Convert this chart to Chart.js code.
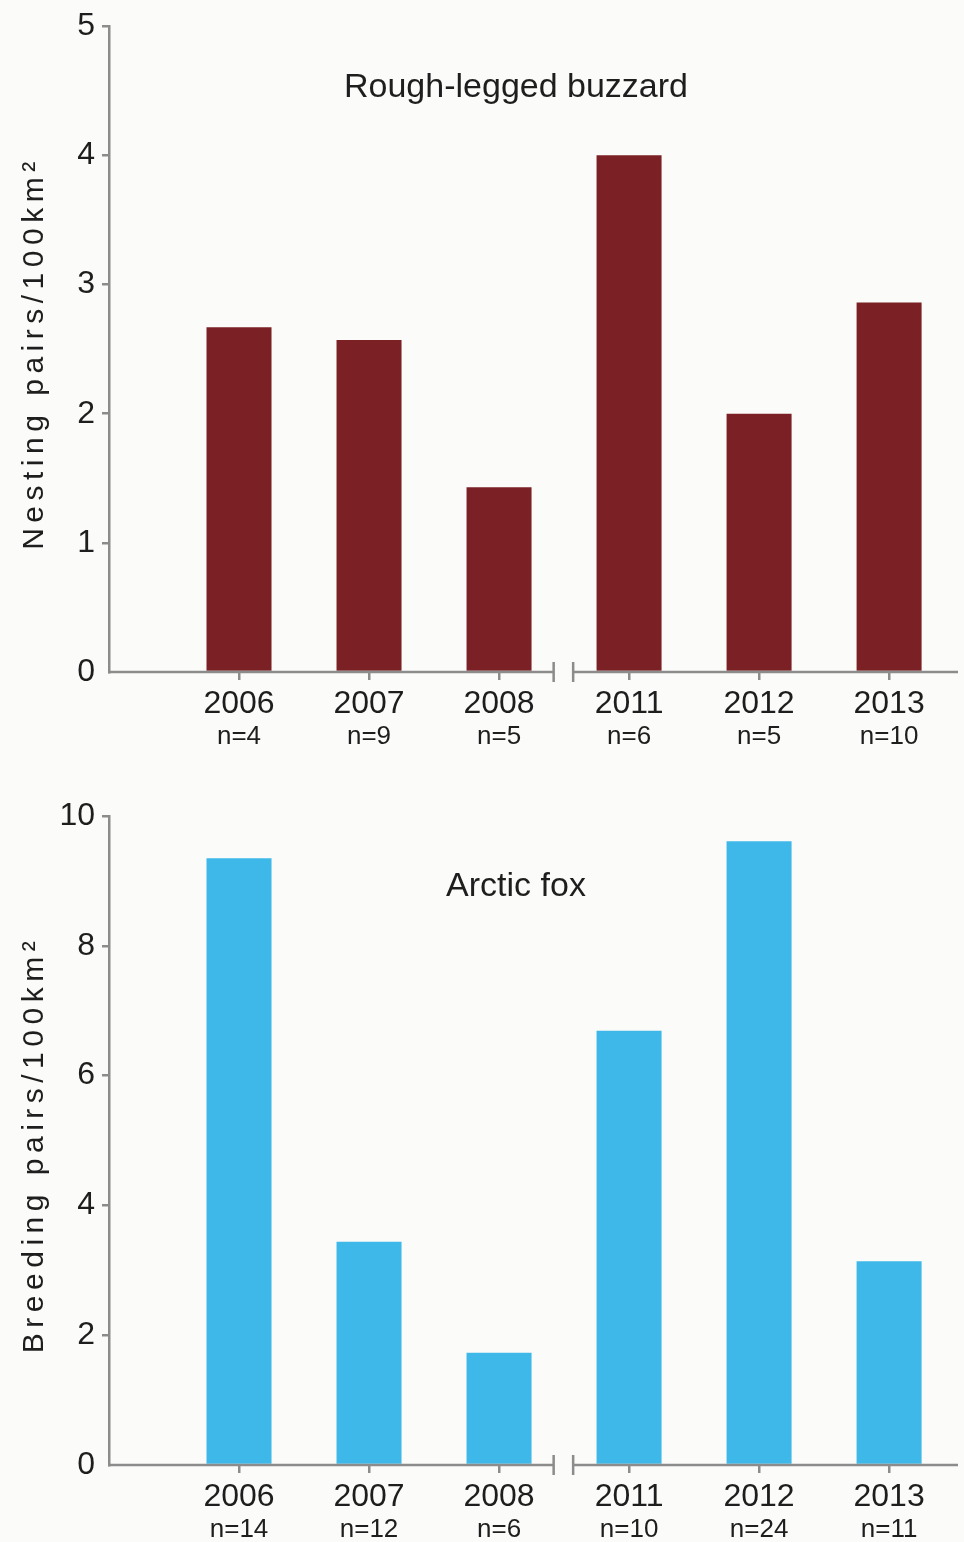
<!DOCTYPE html>
<html>
<head>
<meta charset="utf-8">
<script src="https://cdn.jsdelivr.net/npm/chart.js@4/dist/chart.umd.min.js"></script>
<style>
  html, body { margin: 0; padding: 0; background: #fbfbf9; }
  canvas { display: block; }
</style>
</head>
<body>
<canvas id="buzzard" width="964" height="771"></canvas>
<canvas id="fox" width="964" height="771"></canvas>
<script>
const years = ["2006", "2007", "2008", "2011", "2012", "2013"];
const buzzardN = ["n=4", "n=9", "n=5", "n=6", "n=5", "n=10"];
const foxN = ["n=14", "n=12", "n=6", "n=10", "n=24", "n=11"];
const buzzardDensity = [2.67, 2.57, 1.43, 4.0, 2.0, 2.86];
const foxDensity = [9.35, 3.44, 1.73, 6.69, 9.61, 3.14];

const axisColor = "#8c8c8c";
const textColor = "#1e1e1e";
const FONT = "'Liberation Sans', Arial, sans-serif";

// x axis with a gap between 2008 and 2011, plus n labels and in-plot titles
const decorPlugin = {
  id: "decor",
  afterDraw(chart, args, opts) {
    const { ctx, chartArea } = chart;
    const x = chart.scales.x;
    const y0 = chartArea.bottom;
    const b1 = x.getPixelForValue(2.42);
    const b2 = x.getPixelForValue(2.57);
    ctx.save();
    ctx.strokeStyle = axisColor;
    ctx.lineWidth = 2.5;
    ctx.beginPath();
    ctx.moveTo(chartArea.left - 1, y0);
    ctx.lineTo(b1, y0);
    ctx.moveTo(b2, y0);
    ctx.lineTo(chartArea.right, y0);
    ctx.moveTo(b1, y0 - 10);
    ctx.lineTo(b1, y0 + 10);
    ctx.moveTo(b2, y0 - 10);
    ctx.lineTo(b2, y0 + 10);
    ctx.stroke();

    ctx.fillStyle = textColor;
    ctx.textAlign = "center";
    ctx.textBaseline = "middle";
    ctx.font = `26px ${FONT}`;
    opts.nLabels.forEach((t, i) => {
      ctx.fillText(t, x.getPixelForValue(i), y0 + 65);
    });

    ctx.font = `34px ${FONT}`;
    ctx.fillText(opts.title, 516, opts.titleY);

    // rotated y title with wide letter spacing
    ctx.translate(35, (chartArea.top + chartArea.bottom) / 2 + 4);
    ctx.rotate(-Math.PI / 2);
    ctx.font = `30px ${FONT}`;
    ctx.letterSpacing = "5.5px";
    ctx.fillText(opts.yTitle, 0, 0);
    ctx.restore();
  }
};

const makeChart = (id, values, color, yMax, yStep, padTop, xHeight, nLabels, title, titleY, yTitle) => {
  return new Chart(document.getElementById(id), {
    type: "bar",
    data: {
      datasets: [{
        data: values.map((v, i) => ({ x: i, y: v })),
        backgroundColor: color,
        borderWidth: 0,
        barPercentage: 0.5,
        categoryPercentage: 1.0
      }]
    },
    options: {
      responsive: false,
      animation: false,
      layout: { padding: { top: padTop, left: 0, right: 6, bottom: 0 } },
      plugins: {
        legend: { display: false },
        tooltip: { enabled: false },
        decor: { nLabels, title, titleY, yTitle }
      },
      scales: {
        x: {
          type: "linear",
          min: -1,
          max: 5.53,
          offset: false,
          afterBuildTicks: (scale) => { scale.ticks = years.map((_, i) => ({ value: i })); },
          afterFit: (scale) => { scale.height = xHeight; },
          ticks: {
            callback: (v) => years[v],
            font: { family: FONT, size: 32 },
            color: textColor,
            padding: 5,
            maxRotation: 0,
            autoSkip: false
          },
          grid: { offset: false, drawOnChartArea: false, tickLength: 8, color: axisColor, lineWidth: 2.5 },
          border: { display: false }
        },
        y: {
          min: 0,
          max: yMax,
          afterFit: (scale) => { scale.width = 109; },
          ticks: {
            stepSize: yStep,
            font: { family: FONT, size: 32 },
            color: textColor,
            padding: 7
          },
          grid: {
            drawOnChartArea: false,
            tickLength: 7,
            lineWidth: 2.5,
            color: (c) => (c.tick && c.tick.value === 0 ? "rgba(0,0,0,0)" : axisColor)
          },
          border: { color: axisColor, width: 2.5 }
        }
      }
    },
    plugins: [decorPlugin]
  });
};

makeChart("buzzard", buzzardDensity, "#7b2025", 5, 1, 23, 99, buzzardN,
  "Rough-legged buzzard", 88, "Nesting pairs/100km²");
makeChart("fox", foxDensity, "#3eb8e8", 10, 2, 45, 77, foxN,
  "Arctic fox", 887 - 771, "Breeding pairs/100km²");
</script>
</body>
</html>
